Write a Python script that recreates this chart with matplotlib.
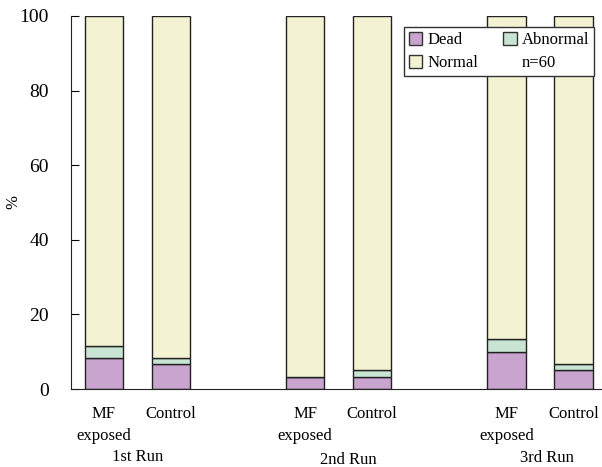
import matplotlib.pyplot as plt
from matplotlib.patches import Patch

plt.rcParams['font.family'] = ['Liberation Serif', 'DejaVu Serif']

# percentages of 60 embryos per bar
conditions = ["MF\nexposed", "Control", "MF\nexposed", "Control", "MF\nexposed", "Control"]
runs = ["1st Run", "2nd Run", "3rd Run"]
dead = [8.33, 6.67, 3.33, 3.33, 10.0, 5.0]
abnormal = [3.33, 1.67, 0.0, 1.67, 3.33, 1.67]
normal = [100 - d - a for d, a in zip(dead, abnormal)]

xpos = [0, 1, 3, 4, 6, 7]
run_x = [0.5, 3.65, 6.6]
run_y = [457, 460, 458]
col_dead = "#c9a4cf"
col_abn = "#c8e5d3"
col_norm = "#f3f2d3"

fig = plt.figure(figsize=(6.02, 4.67), dpi=100)
ax = fig.add_axes([71 / 602, 1 - 389 / 467, 530 / 602, 373 / 467])

w = 0.57
ax.bar(xpos, dead, w, color=col_dead, edgecolor="#222222", linewidth=1.0)
ax.bar(xpos, abnormal, w, bottom=dead, color=col_abn, edgecolor="#222222", linewidth=1.0)
bot2 = [d + a for d, a in zip(dead, abnormal)]
ax.bar(xpos, normal, w, bottom=bot2, color=col_norm, edgecolor="#222222", linewidth=1.0)

ax.set_ylim(0, 100)
ax.set_xlim(-0.49, 7.41)
ax.set_yticks([0, 20, 40, 60, 80, 100])
ax.tick_params(axis='y', direction='in', length=6, labelsize=14, pad=16)
ax.set_xticks(xpos)
ax.set_xticklabels(conditions, fontsize=12, linespacing=1.5)
ax.tick_params(axis='x', length=0, pad=12)
ax.spines['top'].set_visible(False)
ax.spines['right'].set_visible(False)
ax.spines['left'].set_color("#222222")
ax.spines['bottom'].set_color("#222222")
ax.set_ylabel("%", fontsize=12)
ax.yaxis.set_label_coords(-(71 - 21) / 530, 0.5)

# run labels under each pair of bars
for x, yp, run in zip(run_x, run_y, runs):
    ax.text(x, -(yp - 389) / 373, run, transform=ax.get_xaxis_transform(),
            fontsize=12, ha="center", va="center")

handles = [Patch(facecolor=col_dead, edgecolor="#333333"),
           Patch(facecolor=col_norm, edgecolor="#333333"),
           Patch(facecolor=col_abn, edgecolor="#333333"),
           Patch(facecolor="none", edgecolor="none")]
labels = ["Dead", "Normal", "Abnormal", "n=60"]
leg = ax.legend(handles, labels, ncol=2, loc="upper right",
                bbox_to_anchor=(594 / 602, 1 - 27 / 467), bbox_transform=fig.transFigure,
                borderaxespad=0, fontsize=12, frameon=True, fancybox=False,
                edgecolor="#333333", framealpha=1,
                handlelength=0.8, handleheight=0.8, handletextpad=0.3,
                columnspacing=1.5, borderpad=0.3, labelspacing=0.4)
leg.get_frame().set_linewidth(1.0)

fig.savefig("out.png", dpi=100)
